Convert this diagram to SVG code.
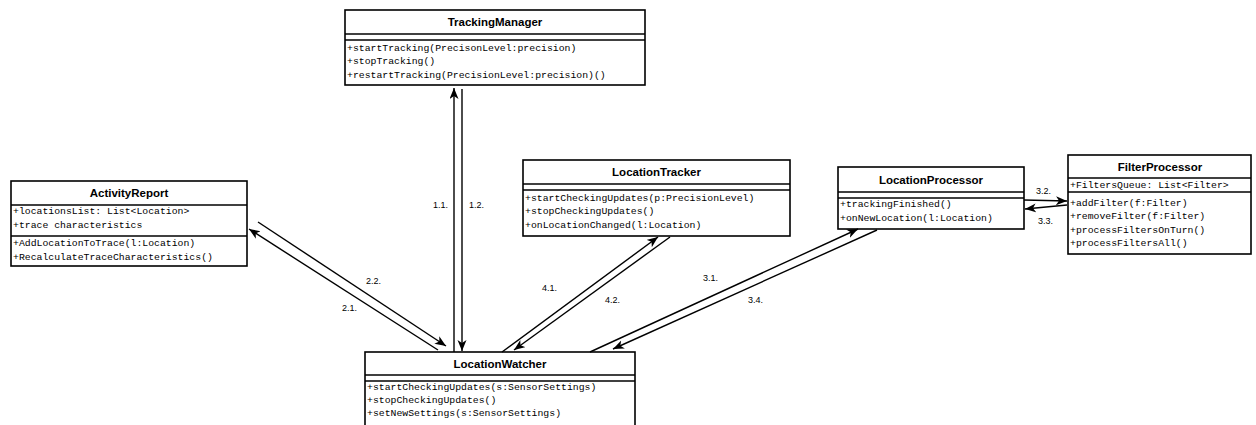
<svg xmlns="http://www.w3.org/2000/svg" width="1256" height="425" viewBox="0 0 1256 425">
<style>
.box{fill:#fff;stroke:#000;stroke-width:1.6}
.sep{stroke:#000;stroke-width:1.6}
.title{font-family:"Liberation Sans",Arial,sans-serif;font-weight:bold;font-size:11.5px;text-anchor:middle;dominant-baseline:central}
.mem{font-family:"Liberation Mono","Courier New",monospace;font-size:9.8px;dominant-baseline:central}
.lbl{font-family:"Liberation Sans",Arial,sans-serif;font-size:9px;dominant-baseline:central}
.conn{stroke:#000;stroke-width:1.4;fill:none;marker-end:url(#arr)}
</style>
<defs>
<marker id="arr" markerUnits="userSpaceOnUse" markerWidth="12" markerHeight="10" refX="11" refY="4.5" orient="auto">
<path d="M0,0 L11,4.5 L0,9 L3,4.5 Z" fill="#000"/>
</marker>
</defs>
<rect width="1256" height="425" fill="#fff"/>

<g id="TrackingManager">
<rect class="box" x="345" y="10" width="300" height="75"/>
<line class="sep" x1="345" y1="34" x2="645" y2="34"/>
<line class="sep" x1="345" y1="40" x2="645" y2="40"/>
<text class="title" x="495" y="22">TrackingManager</text>
<text class="mem" x="347" y="48">+startTracking(PrecisonLevel:precision)</text>
<text class="mem" x="347" y="61.5">+stopTracking()</text>
<text class="mem" x="347" y="75">+restartTracking(PrecisionLevel:precision)()</text>
</g>

<g id="LocationTracker">
<rect class="box" x="523" y="160" width="267" height="76"/>
<line class="sep" x1="523" y1="184" x2="790" y2="184"/>
<line class="sep" x1="523" y1="190" x2="790" y2="190"/>
<text class="title" x="656.5" y="172">LocationTracker</text>
<text class="mem" x="525" y="198">+startCheckingUpdates(p:PrecisionLevel)</text>
<text class="mem" x="525" y="211.5">+stopCheckingUpdates()</text>
<text class="mem" x="525" y="225">+onLocationChanged(l:Location)</text>
</g>

<g id="ActivityReport">
<rect class="box" x="11" y="181" width="236" height="85"/>
<line class="sep" x1="11" y1="205" x2="247" y2="205"/>
<line class="sep" x1="11" y1="236" x2="247" y2="236"/>
<text class="title" x="129" y="193">ActivityReport</text>
<text class="mem" x="13" y="211.5">+locationsList: List&lt;Location&gt;</text>
<text class="mem" x="13" y="225">+trace characteristics</text>
<text class="mem" x="13" y="243">+AddLocationToTrace(l:Location)</text>
<text class="mem" x="13" y="257">+RecalculateTraceCharacteristics()</text>
</g>

<g id="LocationProcessor">
<rect class="box" x="838" y="167" width="186" height="62"/>
<line class="sep" x1="838" y1="192" x2="1024" y2="192"/>
<line class="sep" x1="838" y1="198" x2="1024" y2="198"/>
<text class="title" x="931" y="180">LocationProcessor</text>
<text class="mem" x="840" y="204">+trackingFinished()</text>
<text class="mem" x="840" y="218">+onNewLocation(l:Location)</text>
</g>

<g id="FilterProcessor">
<rect class="box" x="1068" y="155" width="183" height="99"/>
<line class="sep" x1="1068" y1="178" x2="1251" y2="178"/>
<line class="sep" x1="1068" y1="192" x2="1251" y2="192"/>
<text class="title" x="1160" y="167">FilterProcessor</text>
<text class="mem" x="1070" y="185">+FiltersQueue: List&lt;Filter&gt;</text>
<text class="mem" x="1070" y="203">+addFilter(f:Filter)</text>
<text class="mem" x="1070" y="216.5">+removeFilter(f:Filter)</text>
<text class="mem" x="1070" y="230">+processFiltersOnTurn()</text>
<text class="mem" x="1070" y="243.5">+processFiltersAll()</text>
</g>

<g id="LocationWatcher">
<rect class="box" x="365" y="352" width="270" height="80"/>
<line class="sep" x1="365" y1="375" x2="635" y2="375"/>
<line class="sep" x1="365" y1="381" x2="635" y2="381"/>
<text class="title" x="500" y="364">LocationWatcher</text>
<text class="mem" x="367" y="387.5">+startCheckingUpdates(s:SensorSettings)</text>
<text class="mem" x="367" y="400">+stopCheckingUpdates()</text>
<text class="mem" x="367" y="413">+setNewSettings(s:SensorSettings)</text>
</g>

<g id="connectors">
<line class="conn" x1="454" y1="352" x2="454" y2="88"/>
<line class="conn" x1="462" y1="89" x2="462" y2="351"/>
<line class="conn" x1="438" y1="350" x2="249" y2="229"/>
<line class="conn" x1="258" y1="222" x2="446" y2="346"/>
<line class="conn" x1="502" y1="352" x2="658" y2="237"/>
<line class="conn" x1="670" y1="237" x2="514" y2="350"/>
<line class="conn" x1="590" y1="352" x2="858" y2="229"/>
<line class="conn" x1="877" y1="230" x2="613" y2="349"/>
<line class="conn" x1="1024" y1="200" x2="1067" y2="201"/>
<line class="conn" x1="1067" y1="205" x2="1025" y2="209"/>
<text class="lbl" x="433" y="205">1.1.</text>
<text class="lbl" x="469" y="205">1.2.</text>
<text class="lbl" x="366" y="281">2.2.</text>
<text class="lbl" x="342" y="308">2.1.</text>
<text class="lbl" x="542" y="288">4.1.</text>
<text class="lbl" x="605" y="300">4.2.</text>
<text class="lbl" x="703" y="278">3.1.</text>
<text class="lbl" x="748" y="300">3.4.</text>
<text class="lbl" x="1036" y="191">3.2.</text>
<text class="lbl" x="1038" y="221">3.3.</text>
</g>
</svg>
